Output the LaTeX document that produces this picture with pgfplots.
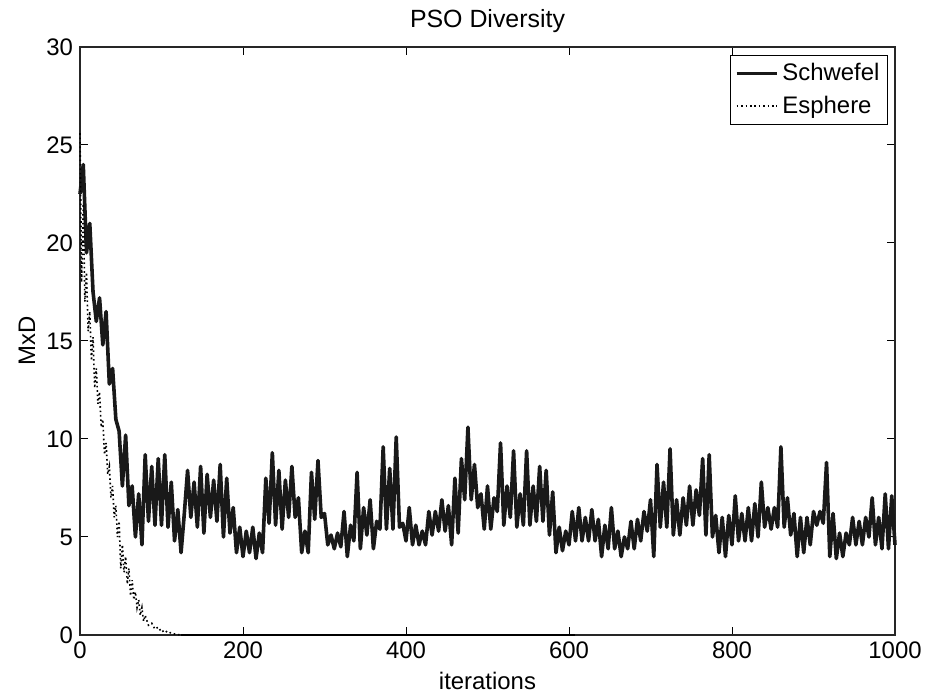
\documentclass[border=0pt]{standalone}
\usepackage{pgfplots}
\pgfplotsset{compat=1.18}
\usepackage{fontspec}
\setmainfont{Liberation Sans}
\begin{document}
\begin{tikzpicture}
\begin{axis}[
  at={(0,0)}, anchor=south west,
  scale only axis, width=407.5bp, height=294bp,
  xmin=0, xmax=1000, ymin=0, ymax=30,
  xtick={0,200,...,1000}, ytick={0,5,...,30},
  xtick pos=both, ytick pos=both,
  xticklabel pos=lower, yticklabel pos=left,
  tick align=inside, major tick length=4bp,
  tick style={black, line width=0.5bp},
  axis line style={line width=0.6bp, black!85},
  /pgf/number format/assume math mode=true,
  /pgf/number format/1000 sep={},
  tick label style={font=\fontsize{12}{14}\selectfont},
  xlabel={iterations},
  xlabel style={font=\fontsize{12}{14}\selectfont, at={(axis description cs:0.5,-0.0935)}, anchor=base},
  ylabel={MxD},
  ylabel style={font=\fontsize{12}{14}\selectfont, at={(axis description cs:-0.0552,0.5)}, anchor=base, rotate=0},
  clip=false,
  legend style={at={(axis description cs:0.9914,0.9864)}, anchor=north east, draw=black, line width=0.5bp,
    font=\fontsize{12}{14}\selectfont, inner xsep=2bp, inner ysep=2bp, row sep=2bp,
    legend cell align=left},
  legend image code/.code={\draw[#1] (0bp,0bp) -- (20bp,0bp);},
]
\addplot[black!90, line width=1.8bp, line join=round] coordinates {
(0,22.5)(4,24.0)(8,19.5)(12,21.0)(16,17.5)(20,16.0)(24,17.2)(28,14.8)(32,16.5)(36,12.8)
(40,13.6)(44,11.0)(48,10.4)(52,7.6)(56,10.2)(60,6.6)(64,7.6)(68,5.0)(72,7.2)(76,4.6)
(80,9.2)(84,5.8)(88,8.6)(92,5.6)(96,9.0)(100,5.6)(104,9.2)(108,5.5)(112,7.8)(116,4.8)
(120,6.4)(124,4.2)(128,6.2)(132,8.4)(136,6.0)(140,7.8)(144,5.5)(148,8.6)(152,5.2)(156,8.2)
(160,6.0)(164,7.9)(168,5.8)(172,8.7)(176,5.0)(180,8.0)(184,5.2)(188,6.5)(192,4.2)(196,5.5)
(200,4.0)(204,5.3)(208,4.2)(212,5.5)(216,3.9)(220,5.2)(224,4.2)(228,8.0)(232,5.7)(236,9.3)
(240,5.6)(244,8.4)(248,5.4)(252,7.9)(256,6.0)(260,8.6)(264,6.0)(268,7.0)(272,4.2)(276,5.3)
(280,4.2)(284,8.3)(288,5.9)(292,8.9)(296,6.0)(300,6.2)(304,4.6)(308,5.1)(312,4.4)(316,5.2)
(320,4.5)(324,6.3)(328,4.0)(332,5.6)(336,4.8)(340,8.3)(344,4.4)(348,6.5)(352,5.1)(356,6.9)
(360,4.4)(364,5.8)(368,5.4)(372,9.6)(376,5.4)(380,8.5)(384,5.4)(388,10.1)(392,5.5)(396,5.7)
(400,4.8)(404,6.5)(408,4.6)(412,5.6)(416,4.6)(420,5.3)(424,4.6)(428,6.3)(432,5.1)(436,6.3)
(440,5.3)(444,6.9)(448,5.3)(452,6.6)(456,4.6)(460,8.0)(464,5.2)(468,9.0)(472,6.9)(476,10.6)
(480,6.9)(484,8.7)(488,6.5)(492,7.2)(496,5.4)(500,7.6)(504,5.4)(508,7.0)(512,6.3)(516,9.8)
(520,5.6)(524,7.6)(528,6.0)(532,9.4)(536,5.5)(540,7.2)(544,5.6)(548,9.4)(552,5.6)(556,7.6)
(560,5.8)(564,8.6)(568,5.8)(572,8.4)(576,5.1)(580,7.3)(584,4.2)(588,5.5)(592,4.3)(596,5.3)
(600,4.6)(604,6.3)(608,4.8)(612,6.5)(616,4.8)(620,6.0)(624,4.8)(628,6.4)(632,4.8)(636,5.9)
(640,4.0)(644,5.6)(648,4.4)(652,6.5)(656,4.4)(660,5.3)(664,4.0)(668,5.0)(672,4.4)(676,5.8)
(680,4.4)(684,5.9)(688,4.8)(692,6.3)(696,5.3)(700,6.9)(704,4.0)(708,8.7)(712,5.5)(716,7.8)
(720,5.5)(724,9.5)(728,5.1)(732,6.9)(736,5.1)(740,7.0)(744,5.6)(748,7.6)(752,5.6)(756,7.4)
(760,6.1)(764,9.0)(768,5.1)(772,9.2)(776,5.0)(780,6.1)(784,4.2)(788,6.0)(792,4.0)(796,6.1)
(800,4.6)(804,7.1)(808,4.8)(812,6.2)(816,4.8)(820,6.5)(824,4.8)(828,6.7)(832,5.0)(836,7.8)
(840,5.5)(844,6.5)(848,5.4)(852,6.5)(856,5.5)(860,9.6)(864,5.5)(868,7.0)(872,5.1)(876,6.2)
(880,4.0)(884,6.0)(888,4.2)(892,6.0)(896,4.6)(900,6.3)(904,5.6)(908,6.3)(912,5.7)(916,8.8)
(920,4.0)(924,6.2)(928,3.9)(932,5.2)(936,4.0)(940,5.2)(944,4.6)(948,6.0)(952,4.6)(956,5.8)
(960,4.6)(964,6.0)(968,5.0)(972,7.0)(976,4.6)(980,6.0)(984,4.4)(988,7.2)(992,4.4)(996,7.1)
(1000,4.6)
};
\addlegendentry{Schwefel}
\addplot[black, line width=0.8bp, dash pattern=on 0.8bp off 1.4bp] coordinates {
(0,25.6)(2,18.0)(4,22.0)(6,17.0)(8,18.5)(10,15.5)(12,16.5)(14,14.0)(16,15.2)(18,12.6)
(20,13.6)(22,11.8)(24,12.4)(26,10.6)(28,11.0)(30,9.2)(32,9.8)(34,8.2)(36,8.6)(38,7.0)
(40,7.6)(42,6.0)(44,6.6)(46,5.0)(48,5.8)(50,3.4)(52,4.6)(54,3.2)(56,4.0)(58,2.6)
(60,3.4)(62,2.0)(64,2.8)(66,1.8)(68,2.2)(70,1.4)(72,1.8)(74,1.0)(76,1.4)(78,0.7)
(80,1.0)(84,0.5)(88,0.6)(92,0.3)(96,0.4)(100,0.15)(104,0.25)(108,0.1)(112,0.12)(116,0.05)
(120,0.02)(124,0)
};
\addlegendentry{Esphere}
\addplot[black, line width=1.4bp, forget plot] coordinates {(124,0)(607,0)};
\node[font=\fontsize{12.5}{15}\selectfont, anchor=base] at (rel axis cs:0.5,1.034) {PSO Diversity};
\end{axis}
\pgfresetboundingbox
\useasboundingbox (-40bp,-32.5bp) rectangle (424.5bp,317.5bp);
\end{tikzpicture}
\end{document}
